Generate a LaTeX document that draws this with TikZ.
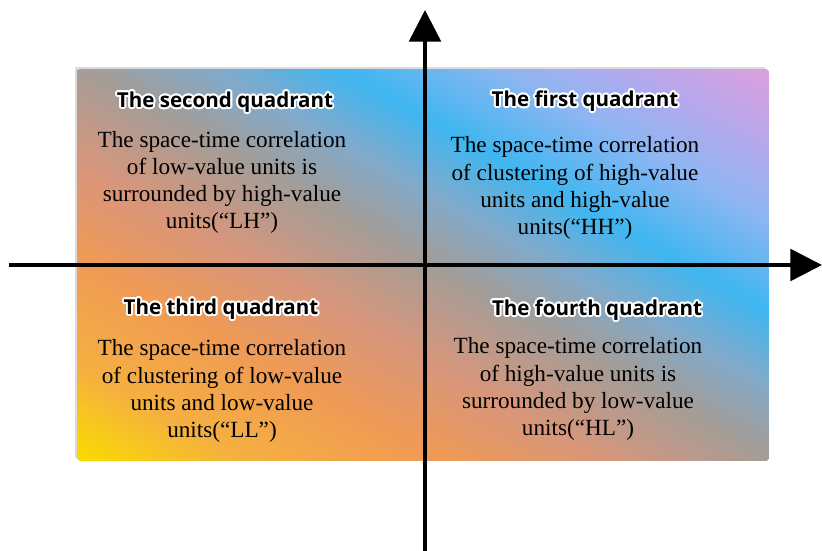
\documentclass[tikz,border=0pt]{standalone}
\usepackage{fontspec}
\setmainfont{Liberation Serif}
\newfontfamily\headfont{Open Sans}
\usepackage[copies]{contour}
\contourlength{1.1pt}
\usepackage{tikz}
\usetikzlibrary{arrows.meta,positioning}

\definecolor{qyellow}{HTML}{F9DC00}
\definecolor{qamber}{HTML}{F5B040}
\definecolor{qorange}{HTML}{F09A55}
\definecolor{qsalmon}{HTML}{D8967A}
\definecolor{qgray}{HTML}{A29D99}
\definecolor{qsteel}{HTML}{80AACB}
\definecolor{qblue}{HTML}{3FB6F0}
\definecolor{qsky}{HTML}{8EB6F2}
\definecolor{qlav}{HTML}{B4A8EC}
\definecolor{qpink}{HTML}{DCA0DE}
\pgfdeclarehorizontalshading{quadshade}{100bp}{color(0bp)=(qyellow); color(12bp)=(qamber);
  color(26bp)=(qorange); color(38bp)=(qsalmon); color(51bp)=(qgray); color(60bp)=(qsteel);
  color(69bp)=(qblue); color(81bp)=(qsky); color(90bp)=(qlav); color(100bp)=(qpink)}

\begin{document}
\begin{tikzpicture}[
  axis/.style={line width=2pt,-{Triangle[length=18pt,width=18pt]}},
  head/.style={font=\headfont\bfseries\fontsize{11.7}{14}\selectfont},
  body/.style={align=center,font=\fontsize{13.2}{15.4}\selectfont}]
  \useasboundingbox (0,0) rectangle (16.44,11.02);
  % board
  \fill[black!14] (1.5,1.86) rectangle (15.3,9.68);
  \node[minimum width=13.8cm,minimum height=7.8cm,inner sep=0pt](board) at (8.46,5.72){};
  \begin{scope}
    \clip (board.south west) rectangle (board.north east);
    \pgftransformcm{3.9118}{2.2110}{-3.9118}{2.2110}{\pgfpointanchor{board}{center}}
    \pgflowlevelsynccm
    \pgfuseshading{quadshade}
  \end{scope}
  % axes
  \coordinate (xl) at (0.18,5.72);
  \coordinate (xr) at (16.44,5.72);
  \coordinate (yb) at (8.5,0);
  \coordinate (yt) at (8.5,10.82);
  \draw[axis] (xl) -- (xr);
  \draw[axis] (yb) -- (yt);
  % second and first quadrant
  \node[head](h2) at (4.5,8.96){\contour{white}{The second quadrant}};
  \node[body](t2) at (4.44,7.37){The space-time correlation\\of low-value units is\\surrounded by high-value\\units(“LH”)};
  \node[head](h1) at (11.7,8.98){\contour{white}{The first quadrant}};
  \node[body](t1) at (11.5,7.26){The space-time correlation\\of clustering of high-value\\units and high-value\\units(“HH”)};
  % third and fourth quadrant
  \node[head](h3) at (4.42,4.82){\contour{white}{The third quadrant}};
  \node[body](t3) at (4.44,3.2){The space-time correlation\\of clustering of low-value\\units and low-value\\units(“LL”)};
  \node[head](h4) at (11.94,4.8){\contour{white}{The fourth quadrant}};
  \node[body](t4) at (11.56,3.24){The space-time correlation\\of high-value units is\\surrounded by low-value\\units(“HL”)};
\end{tikzpicture}
\end{document}
